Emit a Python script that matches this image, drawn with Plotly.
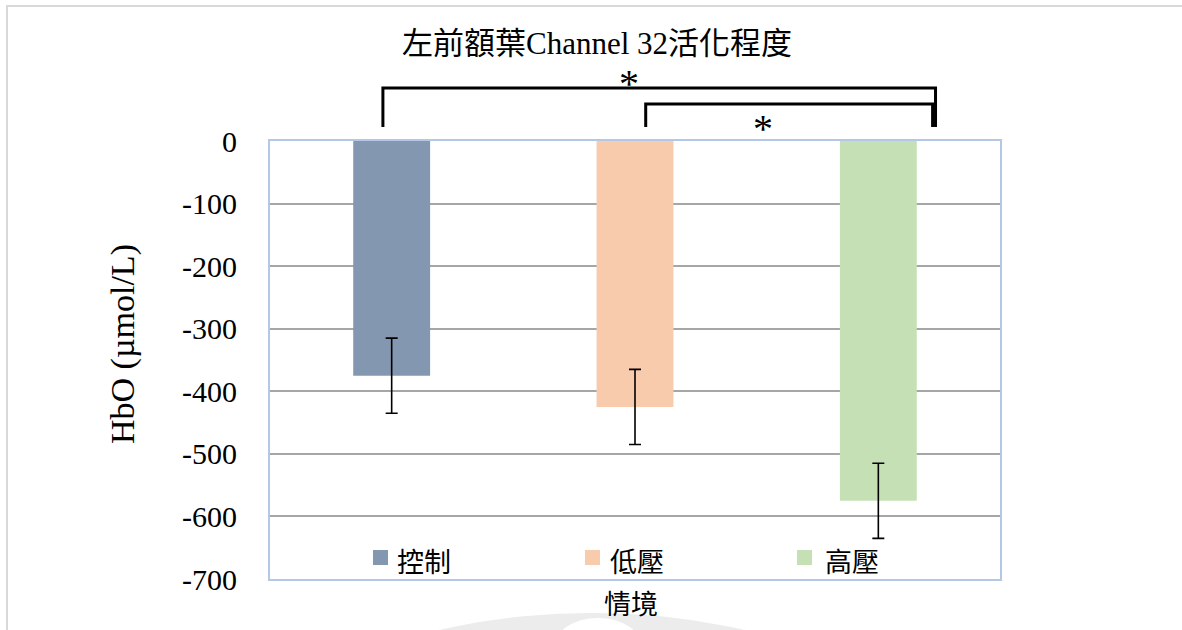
import plotly.graph_objects as go

# Mean HbO change per condition, with the error (±) for each bar
categories = ["控制", "低壓", "高壓"]
hbo_means = [-375, -425, -575]
hbo_errors = [60, 60, 60]
bar_colors = ["#8497b0", "#f8cbad", "#c5e0b4"]

y_ticks = [0, -100, -200, -300, -400, -500, -600, -700]
y_tick_text = ["0", "-100", "-200", "-300", "-400", "-500", "-600", "-700"]

title_text = "左前額葉Channel 32活化程度"
y_title = "HbO (µmol/L)"
x_title = "情境"

# Page geometry in pixels
W, H = 1182, 630
L, R, T, B = 270, 182, 141, 51
PW, PH = W - L - R, H - T - B


def px(xp):
    return (xp - L) / PW


def py(yp):
    return (H - B - yp) / PH


SERIF = "Liberation Serif, 'Noto Sans CJK TC', serif"
CJK = "'Noto Sans CJK TC', 'Liberation Serif', sans-serif"

fig = go.Figure()
fig.add_trace(go.Bar(
    x=categories,
    y=hbo_means,
    marker=dict(color=bar_colors, line=dict(width=0)),
    error_y=dict(type="data", array=hbo_errors, visible=True,
                 color="#000000", thickness=1.6, width=6),
    showlegend=False,
))

shapes = []
annotations = []

# Outer light frame (top and left edges)
shapes.append(dict(type="path", xref="paper", yref="paper",
                   path=f"M {px(7)},{py(640)} L {px(7)},{py(6)} L {px(1190)},{py(6)}",
                   line=dict(color="#d9d9d9", width=2), layer="below"))

# Faint seal in the lower margin
shapes.append(dict(type="circle", xref="paper", yref="paper",
                   x0=px(-108), x1=px(1292), y0=py(2013), y1=py(613),
                   fillcolor="#ececec", line=dict(width=0), layer="below"))
shapes.append(dict(type="circle", xref="paper", yref="paper",
                   x0=px(553), x1=px(643), y0=py(680), y1=py(618),
                   fillcolor="#ffffff", line=dict(width=0), layer="below"))

# Significance brackets
def bracket(xa, xb, ytop, ybot):
    return dict(type="path", xref="x", yref="paper",
                path=f"M {xa},{py(ybot)} L {xa},{py(ytop)} L {xb},{py(ytop)} L {xb},{py(ybot)}",
                line=dict(color="#000000", width=3))


shapes.append(bracket(-0.036, 2.235, 88, 127))
shapes.append(bracket(1.044, 2.223, 104, 127))

annotations.append(dict(text="*", xref="x", yref="paper", x=0.975, y=py(84),
                        showarrow=False, xanchor="center", yanchor="middle",
                        font=dict(family=SERIF, size=40, color="#000000")))
annotations.append(dict(text="*", xref="x", yref="paper", x=1.525, y=py(129),
                        showarrow=False, xanchor="center", yanchor="middle",
                        font=dict(family=SERIF, size=40, color="#000000")))

# Title
annotations.append(dict(text=title_text, xref="paper", yref="paper",
                        x=px(597), y=py(43), showarrow=False,
                        xanchor="center", yanchor="middle",
                        font=dict(family=SERIF, size=31, color="#000000")))

# Axis titles
annotations.append(dict(text=y_title, xref="paper", yref="paper",
                        x=px(123), y=py(344), showarrow=False, textangle=-90,
                        xanchor="center", yanchor="middle",
                        font=dict(family=SERIF, size=34, color="#000000")))
annotations.append(dict(text=x_title, xref="paper", yref="paper",
                        x=px(631), y=py(602), showarrow=False,
                        xanchor="center", yanchor="middle",
                        font=dict(family=CJK, size=27, color="#000000")))

# Legend inside the plot area, along the bottom
legend_square_left = [373, 585, 797]
legend_text_left = [395, 608, 823]
for name, color, sx, tx in zip(categories, bar_colors, legend_square_left, legend_text_left):
    shapes.append(dict(type="rect", xref="paper", yref="paper",
                       x0=px(sx), x1=px(sx + 15), y0=py(565), y1=py(550),
                       fillcolor=color, line=dict(width=0)))
    annotations.append(dict(text=name, xref="paper", yref="paper",
                            x=px(tx), y=py(560), showarrow=False,
                            xanchor="left", yanchor="middle",
                            font=dict(family=CJK, size=27, color="#000000")))

fig.update_layout(
    width=W, height=H,
    margin=dict(l=L, r=R, t=T, b=B, pad=0),
    paper_bgcolor="#ffffff",
    plot_bgcolor="#ffffff",
    bargap=0.684,
    shapes=shapes,
    annotations=annotations,
    xaxis=dict(range=[-0.5, 2.5], showticklabels=False, ticks="",
               showgrid=False, zeroline=False,
               showline=True, mirror=True, linecolor="#b4c7e7", linewidth=2),
    yaxis=dict(range=[-700, 0], tickvals=y_ticks, ticktext=y_tick_text, ticks="",
               tickfont=dict(family=SERIF, size=30, color="#000000"),
               ticklabelstandoff=25,
               showgrid=True, gridcolor="#a6a6a6", gridwidth=2,
               zeroline=False,
               showline=True, mirror=True, linecolor="#b4c7e7", linewidth=2),
)

fig.write_html("out.html")
